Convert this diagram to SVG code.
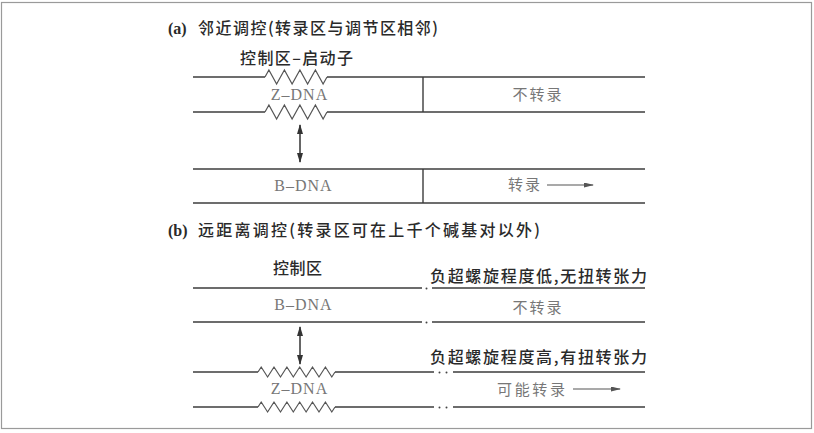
<svg xmlns="http://www.w3.org/2000/svg" width="814" height="433" viewBox="0 0 814 433">
<style>
.frame{fill:#fff;stroke:#9a9a9a;stroke-width:1.2}
.ln{fill:none;stroke:#3c3c3c;stroke-width:1.4}
.zz{fill:none;stroke:#555;stroke-width:1.2;stroke-linejoin:miter}
.dot{fill:#444}
.t{font-family:"Noto Sans CJK SC","Noto Sans",sans-serif;font-size:16px;font-weight:500;fill:#2a2a2a}
.g{font-family:"Noto Sans CJK SC","Noto Sans",sans-serif;font-size:15px;fill:#777}
.lab{font-family:"Liberation Serif",serif;font-size:16px;font-weight:bold;fill:#2a2a2a}
.dna{font-family:"Liberation Serif",serif;font-size:16px;fill:#777;letter-spacing:1px}
.dbl{stroke:#333;stroke-width:1.5;fill:none}
.tr{stroke:#555;stroke-width:1.1;fill:none}
</style>
<defs>
<marker id="ah" viewBox="0 0 10 6" refX="9" refY="3" markerWidth="10" markerHeight="6" markerUnits="userSpaceOnUse" orient="auto-start-reverse">
<path d="M0,0 L10,3 L0,6 z" fill="#333"/>
</marker>
<marker id="ah2" viewBox="0 0 10 5" refX="9" refY="2.5" markerWidth="10" markerHeight="5" markerUnits="userSpaceOnUse" orient="auto">
<path d="M0,0 L10,2.5 L0,5 z" fill="#555"/>
</marker>
</defs>
<rect class="frame" x="1.5" y="2.5" width="810" height="426"/>

<g id="title-a">
<text class="lab" x="168" y="34">(a)</text>
<text class="t" x="198" y="34" textLength="240" lengthAdjust="spacing">邻近调控(转录区与调节区相邻)</text>
</g>

<g id="node-a-zdna">
<text class="t" x="240" y="64" textLength="113" lengthAdjust="spacing">控制区–启动子</text>
<path class="ln" d="M193,77 H265"/>
<path class="zz" d="M265,77 L268.9,70 L276.6,84 L284.4,70 L292.1,84 L299.9,70 L307.6,84 L315.4,70 L323.1,84 L327,77"/>
<path class="ln" d="M327,77 H645"/>
<path class="ln" d="M193,112 H265"/>
<path class="zz" d="M265,112 L268.9,105 L276.6,119 L284.4,105 L292.1,119 L299.9,105 L307.6,119 L315.4,105 L323.1,119 L327,112"/>
<path class="ln" d="M327,112 H645"/>
<path class="ln" d="M423,77 V112"/>
<text class="dna" x="299.5" y="100" text-anchor="middle">Z–DNA</text>
<text class="g" x="538" y="100" text-anchor="middle" letter-spacing="2">不转录</text>
</g>

<g id="node-a-bdna">
<path class="ln" d="M193,169 H645"/>
<path class="ln" d="M193,203 H645"/>
<path class="ln" d="M423,169 V203"/>
<text class="dna" x="303.5" y="191" text-anchor="middle">B–DNA</text>
<text class="g" x="508" y="190" letter-spacing="2">转录</text>
</g>

<g id="title-b">
<text class="lab" x="168" y="236">(b)</text>
<text class="t" x="198" y="236" textLength="342" lengthAdjust="spacing">远距离调控(转录区可在上千个碱基对以外)</text>
</g>

<g id="node-b-bdna">
<text class="t" x="273" y="274" textLength="49" lengthAdjust="spacing">控制区</text>
<text class="t" x="430" y="282" textLength="217" lengthAdjust="spacing">负超螺旋程度低,无扭转张力</text>
<path class="ln" d="M193,288 H422 M432,288 H645"/>
<circle class="dot" cx="426.5" cy="288.5" r="1"/>
<path class="ln" d="M193,322 H422 M432,322 H645"/>
<circle class="dot" cx="426.5" cy="322.5" r="1"/>
<text class="dna" x="303.5" y="310" text-anchor="middle">B–DNA</text>
<text class="g" x="538" y="313" text-anchor="middle" letter-spacing="2">不转录</text>
</g>

<g id="node-b-zdna">
<text class="t" x="430" y="363" textLength="217" lengthAdjust="spacing">负超螺旋程度高,有扭转张力</text>
<path class="ln" d="M193,372 H258"/>
<path class="zz" d="M258,372 L261.2,367 L267.6,377 L274,367 L280.5,377 L286.9,367 L293.3,377 L299.7,367 L306.1,377 L312.5,367 L319,377 L325.4,367 L331.8,377 L335,372"/>
<path class="ln" d="M335,372 H434 M453,372 H645"/>
<circle class="dot" cx="439.5" cy="372.5" r="1"/>
<circle class="dot" cx="446.5" cy="372.5" r="1"/>
<path class="ln" d="M193,407 H258"/>
<path class="zz" d="M258,407 L261.2,402 L267.6,412 L274,402 L280.5,412 L286.9,402 L293.3,412 L299.7,402 L306.1,412 L312.5,402 L319,412 L325.4,402 L331.8,412 L335,407"/>
<path class="ln" d="M335,407 H434 M453,407 H645"/>
<circle class="dot" cx="439.5" cy="407.5" r="1"/>
<circle class="dot" cx="446.5" cy="407.5" r="1"/>
<text class="dna" x="299.5" y="394" text-anchor="middle">Z–DNA</text>
<text class="g" x="497" y="395" textLength="68" lengthAdjust="spacing">可能转录</text>
</g>

<g id="connectors">
<line class="dbl" x1="300" y1="125" x2="300" y2="162" marker-start="url(#ah)" marker-end="url(#ah)"/>
<line class="dbl" x1="300" y1="327" x2="300" y2="364" marker-start="url(#ah)" marker-end="url(#ah)"/>
<line class="tr" x1="547" y1="185" x2="593" y2="185" marker-end="url(#ah2)"/>
<line class="tr" x1="573" y1="389" x2="620" y2="389" marker-end="url(#ah2)"/>
</g>
</svg>
